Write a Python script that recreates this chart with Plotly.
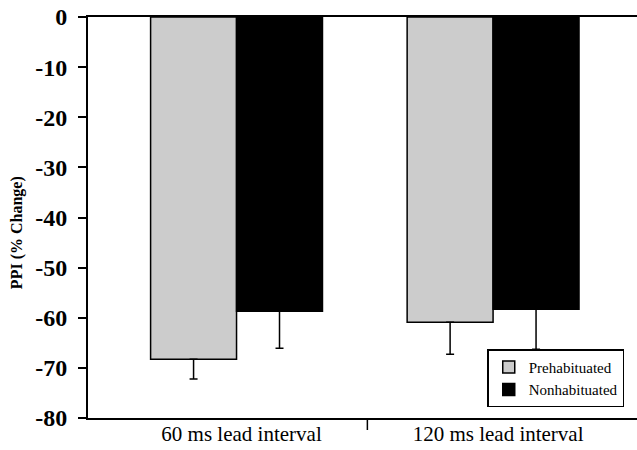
import plotly.graph_objects as go

categories = ["60 ms lead interval", "120 ms lead interval"]
prehab = [-68.3, -60.9]
prehab_err = [3.9, 6.4]
nonhab = [-58.7, -58.3]
nonhab_err = [7.4, 8.0]
series_names = ["Prehabituated", "Nonhabituated"]
ytick_vals = [0, -10, -20, -30, -40, -50, -60, -70, -80]
y_title = "PPI (% Change)"

xpos = list(range(len(categories)))
FONT = "Liberation Serif, Times New Roman, serif"

fig = go.Figure()
fig.add_trace(go.Bar(
    x=xpos, y=prehab, name=series_names[0],
    marker=dict(color="#cccccc", line=dict(color="black", width=1.5)),
    error_y=dict(type="data", symmetric=False, array=[0]*len(prehab), arrayminus=prehab_err,
                 color="black", thickness=1.5, width=4),
))
fig.add_trace(go.Bar(
    x=xpos, y=nonhab, name=series_names[1],
    marker=dict(color="black", line=dict(color="black", width=1.5)),
    error_y=dict(type="data", symmetric=False, array=[0]*len(nonhab), arrayminus=nonhab_err,
                 color="black", thickness=1.5, width=4),
))

# separator tick between categories
fig.add_shape(type="line", xref="x", yref="paper", x0=0.51, x1=0.51, y0=0, y1=-0.03,
              line=dict(color="black", width=1.5))

# y-axis title
fig.add_annotation(text="<b>" + y_title + "</b>", xref="paper", yref="paper",
                   x=0, y=0.461, xanchor="center", yanchor="middle", xshift=-71,
                   textangle=-90, showarrow=False,
                   font=dict(family=FONT, size=16, color="black"))

fig.update_layout(
    width=637, height=450,
    margin=dict(l=88, r=0, t=17, b=32, autoexpand=False),
    plot_bgcolor="white", paper_bgcolor="white",
    barmode="group", bargap=0.33, bargroupgap=0,
    font=dict(family=FONT, color="black"),
    showlegend=True,
    legend=dict(x=0.852, y=0.027, xanchor="center", yanchor="bottom",
                bordercolor="black", borderwidth=1.5, bgcolor="white",
                font=dict(family=FONT, size=15, color="black"),
                tracegroupgap=2, itemwidth=30),
    xaxis=dict(range=[-0.579, 1.561], tickvals=xpos, ticktext=categories,
               ticks="", showline=True, linecolor="black", linewidth=2, mirror=True,
               showgrid=False, zeroline=False, automargin=False, ticklabelstandoff=-4,
               ticklabelshift=5, ticklabeloverflow="allow",
               tickfont=dict(family=FONT, size=21, color="black")),
    yaxis=dict(range=[-80, 0], tickvals=ytick_vals, ticktext=[str(v) for v in ytick_vals],
               ticks="outside", ticklen=8, tickwidth=2, tickcolor="black",
               showline=True, linecolor="black", linewidth=2,
               showgrid=False, zeroline=False, automargin=False, ticklabelstandoff=6,
               ticklabeloverflow="allow",
               tickfont=dict(family=FONT, size=24, color="black", weight="bold")),
)

fig.write_html("out.html", config={"displayModeBar": False},
               post_script="document.body.style.margin='0';document.body.style.overflow='hidden';")
